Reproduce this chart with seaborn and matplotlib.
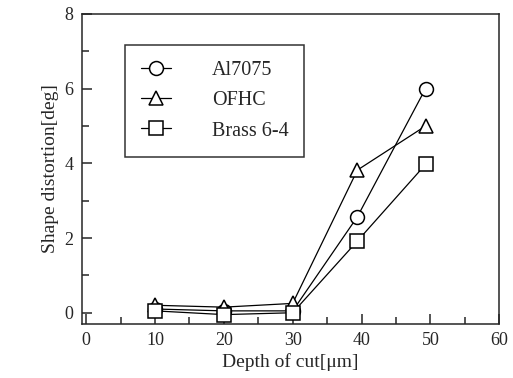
import pandas as pd
import seaborn as sns
import matplotlib
matplotlib.use("Agg")
import matplotlib.pyplot as plt

# data
depth = [10, 20, 30, 39.4, 49.3]
al7075 = [0.1, 0.05, 0.05, 2.57, 6.0]
ofhc = [0.2, 0.15, 0.25, 3.82, 5.0]
brass = [0.05, -0.05, 0.0, 1.92, 3.97]
materials = ["Al7075", "OFHC", "Brass 6-4"]

df = pd.DataFrame({
    "depth": depth * 3,
    "distortion": al7075 + ofhc + brass,
    "material": [m for m in materials for _ in depth],
})

sns.set_style("ticks")
plt.rcParams["font.family"] = ["Liberation Serif", "DejaVu Serif"]

fig, ax = plt.subplots(figsize=(5.13, 3.78), dpi=100)
fig.subplots_adjust(left=0.16, right=0.973, top=0.963, bottom=0.143)

sns.lineplot(data=df, x="depth", y="distortion", style="material",
             style_order=materials, markers={"Al7075": "o", "OFHC": "^", "Brass 6-4": "s"},
             dashes=False, color="black", linewidth=0.9, markersize=10,
             markerfacecolor="white", markeredgecolor="black", markeredgewidth=1.1,
             legend=False, ax=ax)

ax.set_xlim(-0.6, 60)
ax.set_ylim(-0.3, 7.75)
ax.set_xticks([0, 10, 20, 30, 40, 50, 60])
ax.set_xticks([5, 15, 25, 35, 45, 55], minor=True)
ax.set_yticks([0, 2, 4, 6, 8])
ax.set_yticks([1, 3, 5, 7], minor=True)
ax.tick_params(which="both", direction="in", labelsize=13, width=1.1, pad=6)
ax.tick_params(which="major", length=7)
ax.tick_params(which="minor", length=5)
for s in ax.spines.values():
    s.set_visible(True)
    s.set_linewidth(1.1)

ax.set_xlabel("Depth of cut[μm]", fontsize=14, labelpad=3)
ax.set_ylabel("Shape distortion[deg]", fontsize=14)

leg = ax.legend(handles=ax.lines[:3], labels=materials, loc="upper left",
                bbox_to_anchor=(0.103, 0.9), fontsize=14.5, frameon=True, fancybox=False,
                edgecolor="black", handlelength=1.5, handletextpad=2.0,
                labelspacing=0.55, borderpad=0.8, borderaxespad=0)
leg.get_frame().set_linewidth(1.1)

fig.savefig("out.png", dpi=100)
